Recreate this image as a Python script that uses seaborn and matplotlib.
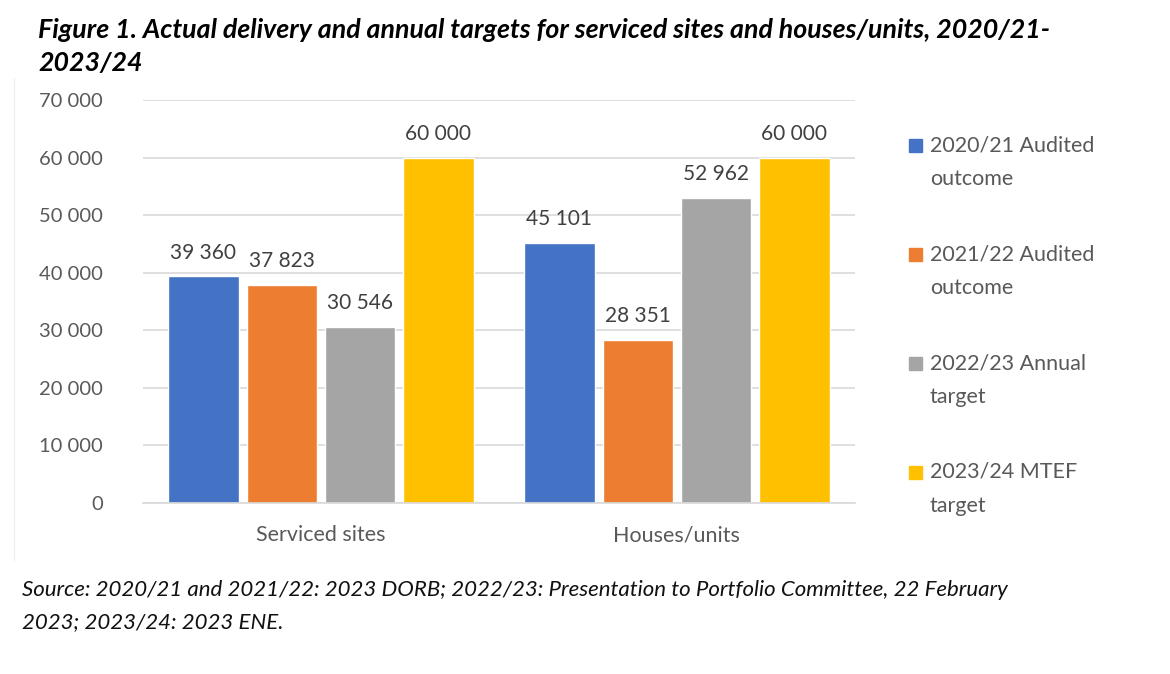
import matplotlib
matplotlib.use("Agg")
import matplotlib.pyplot as plt
from matplotlib.patches import Rectangle
from matplotlib.lines import Line2D
import seaborn as sns
import pandas as pd

categories = ["Serviced sites", "Houses/units"]
series_names = ["2020/21 Audited outcome", "2021/22 Audited outcome",
                "2022/23 Annual target", "2023/24 MTEF target"]
legend_labels = ["2020/21 Audited\noutcome", "2021/22 Audited\noutcome",
                 "2022/23 Annual\ntarget", "2023/24 MTEF\ntarget"]
s2020 = [39360, 45101]
s2021 = [37823, 28351]
s2022 = [30546, 52962]
s2023 = [60000, 60000]
colors = ["#4472C4", "#ED7D31", "#A5A5A5", "#FFC000"]
yticks = [0, 10000, 20000, 30000, 40000, 50000, 60000, 70000]

rows = []
for name, vals in zip(series_names, [s2020, s2021, s2022, s2023]):
    for c, v in zip(categories, vals):
        rows.append({"category": c, "series": name, "value": v})
df = pd.DataFrame(rows)

sns.set_theme(style="white")
plt.rcParams["font.family"] = ["Lato", "DejaVu Sans"]

fig = plt.figure(figsize=(11.7, 6.74), dpi=100)
ax = fig.add_axes([0.1222, 0.2537, 0.6085, 0.5979])

sns.barplot(data=df, x="category", y="value", hue="series", order=categories,
            hue_order=series_names, palette=colors, width=0.88, gap=0.1,
            saturation=1, legend=False, ax=ax, errorbar=None)

def fmt(v):
    return f"{int(round(v)):,}".replace(",", " ")

for cont in ax.containers:
    ax.bar_label(cont, labels=[fmt(b.get_height()) for b in cont],
                 padding=10, fontsize=15, color="#404040")

ax.set_xlim(-0.5, 1.5)
ax.set_ylim(0, 70000)
ax.set_yticks(yticks)
ax.set_yticklabels([fmt(t) for t in yticks], fontsize=14.5, color="#595959")
ax.tick_params(axis="y", length=0, pad=29)
ax.tick_params(axis="x", length=0, pad=16, labelsize=15.5, labelcolor="#595959")
ax.set_xlabel("")
ax.set_ylabel("")
ax.yaxis.grid(True, color="#D9D9D9", linewidth=1.2)
ax.set_axisbelow(True)
for s in ["top", "right", "left"]:
    ax.spines[s].set_visible(False)
ax.spines["bottom"].set_color("#D9D9D9")
ax.spines["bottom"].set_linewidth(1.2)

# legend (manual, square aligned to first text line)
W, H = 1170, 674
ys = [145, 254, 363, 472]
for lab, col, y in zip(legend_labels, colors, ys):
    fig.patches.append(Rectangle((909 / W, 1 - (y + 7) / H), 13 / W, 13 / H,
                                 transform=fig.transFigure, color=col))
    fig.text(930 / W, 1 - (y - 10) / H, lab, fontsize=15.5, color="#595959",
             va="top", ha="left", linespacing=1.85)

# faint chart-area border
fig.add_artist(Line2D([14 / W, 14 / W], [1 - 560 / H, 1 - 78 / H],
                      transform=fig.transFigure, color="#F0F0F0", lw=1))

fig.text(38 / W, 1 - 30 / H,
         "Figure 1. Actual delivery and annual targets for serviced sites and houses/units, 2020/21-",
         fontsize=19.3, fontweight="bold", fontstyle="italic", color="black",
         va="center", ha="left")
fig.text(38 / W, 1 - 63 / H, "2023/24",
         fontsize=19.3, fontweight="bold", fontstyle="italic", color="black",
         va="center", ha="left")

fig.text(22 / W, 1 - 590 / H,
         "Source: 2020/21 and 2021/22: 2023 DORB; 2022/23: Presentation to Portfolio Committee, 22 February",
         fontsize=16, fontstyle="italic", color="#111111", va="center", ha="left")
fig.text(22 / W, 1 - 622 / H, "2023; 2023/24: 2023 ENE.",
         fontsize=16, fontstyle="italic", color="#111111", va="center", ha="left")

fig.savefig("out.png", dpi=100, facecolor="white")
